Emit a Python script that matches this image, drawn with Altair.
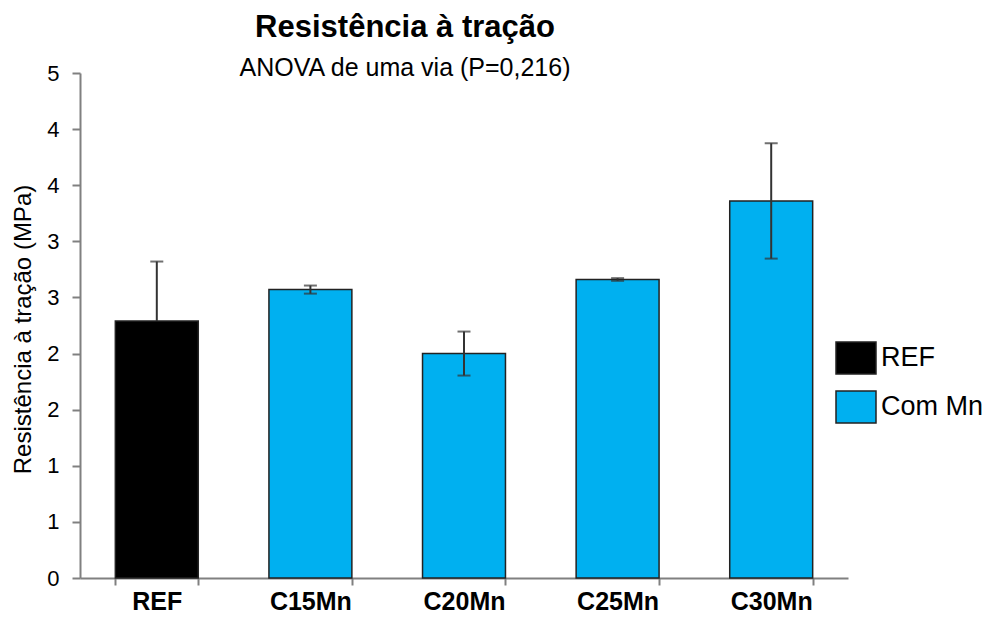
import altair as alt
import pandas as pd

categories = ["REF", "C15Mn", "C20Mn", "C25Mn", "C30Mn"]
means = [2.29, 2.57, 2.00, 2.66, 3.36]
errors = [0.53, 0.036, 0.196, 0.012, 0.514]
groups = ["REF", "Com Mn", "Com Mn", "Com Mn", "Com Mn"]
group_order = ["REF", "Com Mn"]
group_colors = ["#000000", "#00B0F0"]
y_ticks = [0, 0.5, 1, 1.5, 2, 2.5, 3, 3.5, 4, 4.5]

df = pd.DataFrame({
    "cat": categories,
    "mean": means,
    "err": errors,
    "group": groups,
})
df["lo"] = df["mean"] - df["err"]
df["hi"] = df["mean"] + df["err"]

FONT = "Liberation Sans"

x_enc = alt.X(
    "cat:N",
    sort=categories,
    scale=alt.Scale(paddingInner=0.46, paddingOuter=0.23),
    axis=alt.Axis(
        title=None,
        labelFont=FONT,
        labelFontSize=25,
        labelFontWeight="bold",
        labelColor="#000000",
        labelAngle=0,
        labelPadding=4,
        tickBand="extent",
        tickSize=7,
        tickColor="#808080",
        tickWidth=2,
        domainColor="#808080",
        domainWidth=2,
    ),
)

y_scale = alt.Scale(domain=[0, 4.5], nice=False, zero=True)

base = alt.Chart(df).encode(x=x_enc)

bars = base.mark_bar(stroke="#222222", strokeWidth=1.5).encode(
    y=alt.Y(
        "mean:Q",
        scale=y_scale,
        axis=alt.Axis(
            title="Resistência à tração (MPa)",
            titleFont=FONT,
            titleFontSize=24,
            titleFontWeight="normal",
            titleColor="#000000",
            titleX=-50,
            titleY=256,
            titleBaseline="alphabetic",
            values=y_ticks,
            labelExpr="round(datum.value)",
            labelFont=FONT,
            labelFontSize=22,
            labelColor="#000000",
            labelPadding=13,
            tickSize=8,
            tickColor="#808080",
            tickWidth=2,
            domainColor="#808080",
            domainWidth=2,
            grid=False,
        ),
    ),
    color=alt.Color(
        "group:N",
        scale=alt.Scale(domain=group_order, range=group_colors),
        legend=alt.Legend(
            title=None,
            orient="none",
            legendX=759,
            legendY=268,
            symbolType="M-1.25,-1H1.25V1H-1.25Z",
            symbolSize=1024,
            symbolStrokeColor="#222222",
            symbolStrokeWidth=1.5,
            symbolOpacity=1,
            labelFont=FONT,
            labelFontSize=27,
            labelColor="#000000",
            labelOffset=8,
            rowPadding=11,
        ),
    ),
)

ERR_COLOR = "#333333"

upper_rule = base.mark_rule(color=ERR_COLOR, strokeWidth=2).encode(
    y=alt.Y("mean:Q", scale=y_scale),
    y2="hi:Q",
)
upper_cap = base.mark_tick(color=ERR_COLOR, thickness=2, size=13).encode(
    y=alt.Y("hi:Q", scale=y_scale)
)

lower_base = base.transform_filter(alt.datum.group != "REF")
lower_rule = lower_base.mark_rule(color=ERR_COLOR, strokeWidth=2).encode(
    y=alt.Y("lo:Q", scale=y_scale),
    y2="mean:Q",
)
lower_cap = lower_base.mark_tick(color=ERR_COLOR, thickness=2, size=13).encode(
    y=alt.Y("lo:Q", scale=y_scale)
)

chart = (
    alt.layer(bars, upper_rule, upper_cap, lower_rule, lower_cap)
    .properties(
        width=768,
        height=505,
        padding={"left": 72, "top": 65, "right": 136, "bottom": 35},
        autosize=alt.AutoSizeParams(type="none"),
        title=alt.TitleParams(
            text="Resistência à tração",
            subtitle="ANOVA de uma via (P=0,216)",
            font=FONT,
            fontSize=31,
            fontWeight="bold",
            color="#000000",
            subtitleFont=FONT,
            subtitleFontSize=25,
            subtitleColor="#000000",
            subtitlePadding=12,
            anchor="middle",
            dx=-59,
            dy=20,
            offset=0,
        ),
    )
    .configure(background="#ffffff")
    .configure_view(strokeWidth=0, stroke="transparent")
)

chart.save("out.html", embed_options={"renderer": "svg", "actions": False})
